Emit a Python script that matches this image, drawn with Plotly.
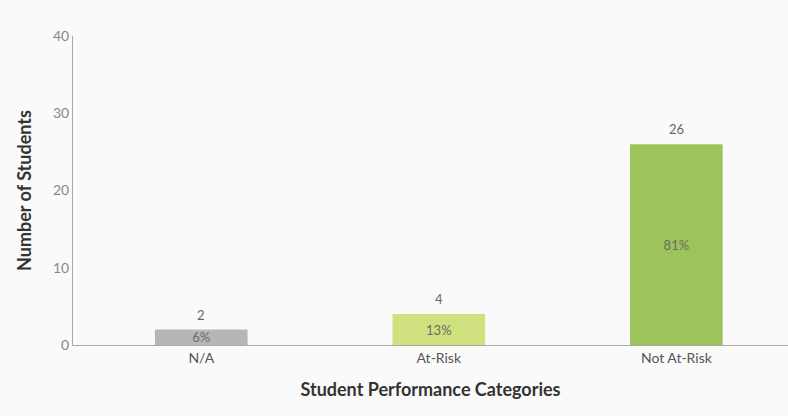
import plotly.graph_objects as go

categories = ["N/A", "At-Risk", "Not At-Risk"]
counts = [2, 4, 26]
percent_labels = ["6%", "13%", "81%"]
bar_colors = ["#b6b6b6", "#cfe17f", "#9dc45b"]
y_ticks = [0, 10, 20, 30, 40]

fig = go.Figure()
fig.add_trace(go.Bar(
    x=categories, y=counts, width=0.39,
    marker=dict(color=bar_colors, line=dict(width=0)),
    text=percent_labels, textposition="inside", insidetextanchor="middle",
    constraintext="none",
    textfont=dict(family="Lato", size=13, color="#6b6b5f"),
    hoverinfo="skip", showlegend=False,
))

for cat, c in zip(categories, counts):
    fig.add_annotation(
        x=cat, y=c, text=str(c), showarrow=False,
        yanchor="bottom", yshift=5,
        font=dict(family="Lato", size=13, color="#666666"),
    )

fig.update_layout(
    width=788, height=416,
    margin=dict(l=73, r=0, t=36, b=71),
    paper_bgcolor="#fafafa", plot_bgcolor="#fafafa",
    font=dict(family="Lato", color="#555555"),
    xaxis=dict(
        type="category", range=[-0.54, 2.47],
        showline=True, linecolor="#aaaaaa", linewidth=1,
        showgrid=False, ticks="", zeroline=False,
        tickfont=dict(family="Lato", size=14, color="#555555"),
        title=dict(text="<b>Student Performance Categories</b>",
                   font=dict(family="Lato", size=18, color="#333333"), standoff=18),
    ),
    yaxis=dict(
        range=[0, 40], tickvals=y_ticks,
        showline=True, linecolor="#aaaaaa", linewidth=1,
        showgrid=False, ticks="", zeroline=False,
        tickfont=dict(family="Lato", size=14, color="#888888"),
        title=dict(text="<b>Number of Students</b>",
                   font=dict(family="Lato", size=18, color="#333333"), standoff=16),
    ),
)

fig.write_html(
    "out.html",
    config={"displayModeBar": False},
    post_script="document.body.style.margin='0';document.body.style.background='#fafafa';",
)
